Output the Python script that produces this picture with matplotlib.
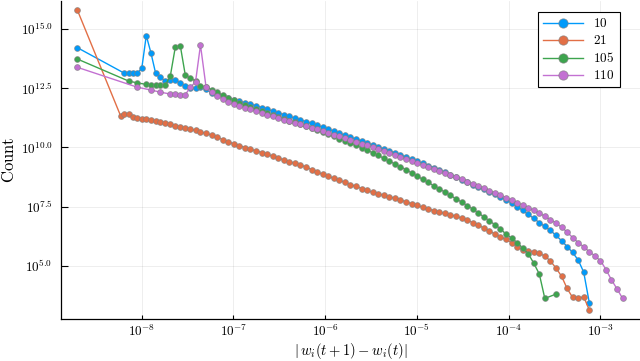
import numpy as np
import matplotlib
matplotlib.use("Agg")
import matplotlib.pyplot as plt

plt.rcParams['mathtext.fontset'] = 'cm'
plt.rcParams['font.family'] = 'serif'

# log10 of the bin positions (first 18 irregular, then the regular log grid)
log_x = [-8.702, -8.231, -8.189, -8.143, -8.096, -8.048, -7.999, -7.950, -7.900,
         -7.848, -7.796, -7.743, -7.688, -7.634, -7.579, -7.525, -7.469, -7.413,
         -7.359, -7.298, -7.238, -7.177, -7.117, -7.056, -6.996, -6.935, -6.874, -6.814,
         -6.753, -6.693, -6.632, -6.572, -6.511, -6.450, -6.390, -6.329, -6.269, -6.208,
         -6.148, -6.087, -6.026, -5.966, -5.905, -5.845, -5.784, -5.724, -5.663, -5.602,
         -5.542, -5.481, -5.421, -5.360, -5.300, -5.239, -5.178, -5.118, -5.057, -4.997,
         -4.936, -4.876, -4.815, -4.754, -4.694, -4.633, -4.573, -4.512, -4.452, -4.391,
         -4.330, -4.270, -4.209, -4.149, -4.088, -4.028, -3.967, -3.906, -3.846, -3.785,
         -3.725, -3.664, -3.604, -3.543, -3.482, -3.422, -3.361, -3.301, -3.240, -3.180,
         -3.119, -3.059, -2.998, -2.937, -2.877, -2.816, -2.756]

# log10 of the counts, None = empty bin
blue_early = [14.21, None, 13.13, 13.13, 13.13, 13.13, 13.34, 14.72, 14.00,
              13.13, 12.95, 12.80, 12.85, 12.85, 12.71, 12.60, 12.52, 12.49]
blue_main = [12.54, 12.45, 12.31, 12.24, 12.17, 12.09, 12.01, 11.95, 11.88, 11.82,
             11.76, 11.68, 11.61, 11.53, 11.45, 11.38, 11.31, 11.23, 11.16, 11.08,
             11.01, 10.93, 10.85, 10.77, 10.68, 10.60, 10.51, 10.43, 10.35, 10.27,
             10.18, 10.10, 10.02, 9.93, 9.85, 9.77, 9.68, 9.59, 9.50, 9.41,
             9.32, 9.23, 9.14, 9.04, 8.94, 8.84, 8.74, 8.64, 8.54, 8.43,
             8.33, 8.22, 8.12, 8.01, 7.89, 7.78, 7.65, 7.50, 7.34, 7.17,
             7.00, 6.82, 6.66, 6.49, 6.28, 6.06, 5.81, 5.56, 5.24, 4.73,
             3.44]

orange_early = [15.80, 11.34, 11.40, 11.42, 11.29, 11.24, 11.21, 11.18, 11.16,
                11.11, 11.07, 11.02, 10.97, 10.91, 10.86, 10.82, 10.76, 10.72]
orange_main = [10.65, 10.59, 10.52, 10.42, 10.33, 10.24, 10.14, 10.07, 9.99, 9.92,
               9.85, 9.78, 9.70, 9.63, 9.55, 9.47, 9.40, 9.32, 9.25, 9.17,
               9.06, 8.96, 8.86, 8.78, 8.69, 8.61, 8.52, 8.43, 8.35, 8.26,
               8.18, 8.10, 8.04, 7.97, 7.91, 7.85, 7.78, 7.70, 7.62, 7.55,
               7.47, 7.40, 7.33, 7.27, 7.21, 7.15, 7.09, 7.01, 6.93, 6.82,
               6.72, 6.59, 6.47, 6.34, 6.23, 6.11, 5.98, 5.81, 5.67, 5.63,
               5.59, 5.52, 5.41, 5.20, 4.90, 4.56, 4.04, 3.66, 3.62, 3.69,
               3.13]

green_early = [13.73, None, None, 12.80, None, 12.72, None, 12.66, 12.63,
               12.63, 12.63, 12.63, 13.01, 14.22, 14.29, 13.06, 12.93, 12.80]
green_main = [12.59, 12.55, 12.44, 12.32, 12.21, 12.10, 11.98, 11.87, 11.78, 11.69,
              11.61, 11.52, 11.44, 11.36, 11.28, 11.21, 11.13, 11.05, 10.97, 10.89,
              10.81, 10.73, 10.64, 10.55, 10.46, 10.37, 10.27, 10.18, 10.08, 9.98,
              9.88, 9.77, 9.66, 9.54, 9.42, 9.30, 9.18, 9.06, 8.92, 8.79,
              8.65, 8.52, 8.38, 8.25, 8.11, 7.97, 7.83, 7.69, 7.54, 7.40,
              7.23, 7.07, 6.89, 6.74, 6.55, 6.34, 6.17, 5.98, 5.75, 5.51,
              5.11, 4.65, 3.62, None, 3.80]

purple_early = [13.38, None, None, None, None, 12.54, None, None, 12.42,
                None, 12.33, None, 12.25, 12.24, 12.22, 12.22, 12.54, 12.76]
purple_main = [14.32, 12.54, 12.32, 12.17, 12.04, 11.92, 11.83, 11.75, 11.67, 11.60,
               11.53, 11.46, 11.38, 11.31, 11.24, 11.17, 11.10, 11.04, 10.97, 10.90,
               10.83, 10.76, 10.69, 10.61, 10.54, 10.46, 10.39, 10.31, 10.23, 10.16,
               10.08, 10.01, 9.93, 9.85, 9.77, 9.69, 9.60, 9.52, 9.44, 9.35,
               9.27, 9.18, 9.10, 9.01, 8.92, 8.83, 8.74, 8.65, 8.55, 8.46,
               8.37, 8.27, 8.17, 8.08, 7.98, 7.88, 7.78, 7.67, 7.56, 7.45,
               7.34, 7.22, 7.09, 6.95, 6.80, 6.63, 6.42, 6.19, 5.98, 5.79,
               5.60, 5.41, 5.22, 4.84, 4.40, 4.02, 3.62]

labels = ["10", "21", "105", "110"]
colors = ["#009AFA", "#E26F46", "#3DA44E", "#C371D2"]
series = [blue_early + blue_main, orange_early + orange_main,
          green_early + green_main, purple_early + purple_main]

fig = plt.figure(figsize=(6.4, 3.61), dpi=100)
ax = fig.add_axes([61 / 640, 1 - 319 / 361, 579 / 640, 318 / 361])

lx = np.array(log_x)
for vals, lab, col in zip(series, labels, colors):
    y = np.array([np.nan if v is None else v for v in vals], dtype=float)
    y = np.concatenate([y, np.full(len(lx) - len(y), np.nan)])
    ok = ~np.isnan(y)
    ax.plot(10 ** lx[ok], 10 ** y[ok], '-o', color=col, lw=1, ms=4.2,
            mec=(0.5, 0.5, 0.5, 0.7), mew=0.6, label="$" + lab + "$")

ax.set_xscale('log')
ax.set_yscale('log')
ax.set_xlim(10 ** -8.88, 10 ** -2.566)
ax.set_ylim(10 ** 2.75, 10 ** 16.18)

xt = [-8, -7, -6, -5, -4, -3]
ax.set_xticks([10.0 ** t for t in xt])
ax.set_xticklabels([r"$10^{%d}$" % t for t in xt])
yt = [5.0, 7.5, 10.0, 12.5, 15.0]
ax.set_yticks([10.0 ** t for t in yt])
ax.set_yticklabels([r"$10^{%.1f}$" % t for t in yt])
ax.minorticks_off()

ax.tick_params(axis='both', direction='in', labelsize=9.5, width=0.8, color='black')
ax.tick_params(axis='y', length=5, pad=6)
ax.tick_params(axis='x', length=3, pad=3)
ax.grid(True, color='black', alpha=0.08, lw=0.6)
for s in ['top', 'right']:
    ax.spines[s].set_visible(False)
for s in ['left', 'bottom']:
    ax.spines[s].set_linewidth(0.9)

ax.set_xlabel(r"$|\, w_i(t+1) - w_i(t)|$", fontsize=10.5)
ax.xaxis.set_label_coords(0.5, -0.07)
ax.set_ylabel(r"$\mathrm{Count}$", fontsize=12, labelpad=2)

leg = ax.legend(loc='upper right', bbox_to_anchor=(620 / 640, 1 - 12 / 361),
                bbox_transform=fig.transFigure, borderaxespad=0, fontsize=9.5,
                fancybox=False, framealpha=1, edgecolor='black', handlelength=3.0,
                markerscale=1.6, labelspacing=0.3, borderpad=0.4)
leg.get_frame().set_linewidth(0.8)

fig.savefig("out.png", dpi=100)
